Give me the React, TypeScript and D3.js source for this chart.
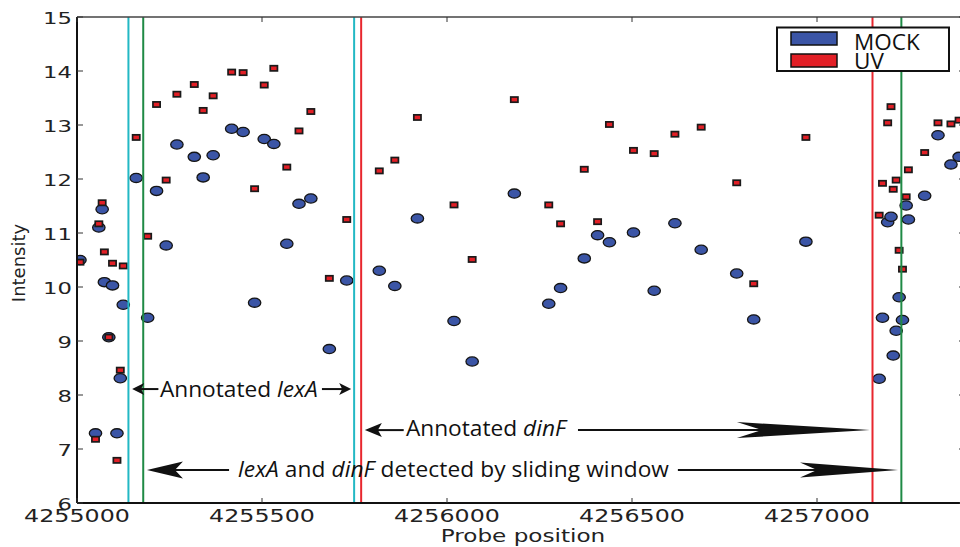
import React from 'react';
import * as d3 from 'd3';

// Probe positions (x) and intensities for the two conditions
const positions = [
  4255008, 4255050, 4255059, 4255068, 4255074, 4255086, 4255096, 4255108, 4255117, 4255125,
  4255160, 4255191, 4255215, 4255241, 4255270, 4255317, 4255341, 4255368, 4255418, 4255449,
  4255480, 4255506, 4255532, 4255567, 4255600, 4255632, 4255682, 4255729, 4255817, 4255859,
  4255920, 4256019, 4256068, 4256182, 4256275, 4256307, 4256371, 4256407, 4256439, 4256504,
  4256560, 4256616, 4256687, 4256783, 4256829, 4256970, 4257168, 4257177, 4257191, 4257200,
  4257206, 4257214, 4257222, 4257231, 4257241, 4257247, 4257291, 4257327, 4257362, 4257384,
];
const mock = [
  10.5, 7.29, 11.1, 11.44, 10.09, 9.07, 10.03, 7.29, 8.31, 9.67,
  12.02, 9.43, 11.78, 10.77, 12.64, 12.41, 12.03, 12.44, 12.93, 12.87,
  9.71, 12.74, 12.65, 10.8, 11.54, 11.64, 8.85, 10.12, 10.3, 10.02,
  11.27, 9.37, 8.62, 11.73, 9.69, 9.98, 10.53, 10.96, 10.83, 11.01,
  9.93, 11.18, 10.69, 10.25, 9.4, 10.84, 8.3, 9.43, 11.2, 11.3,
  8.73, 9.19, 9.81, 9.39, 11.51, 11.25, 11.69, 12.81, 12.27, 12.41,
];
const uv = [
  10.46, 7.18, 11.17, 11.56, 10.65, 9.07, 10.44, 6.79, 8.46, 10.39,
  12.77, 10.94, 13.38, 11.98, 13.57, 13.75, 13.27, 13.54, 13.98, 13.97,
  11.82, 13.74, 14.05, 12.22, 12.89, 13.25, 10.16, 11.25, 12.15, 12.35,
  13.14, 11.52, 10.51, 13.47, 11.52, 11.17, 12.18, 11.21, 13.01, 12.53,
  12.47, 12.83, 12.96, 11.93, 10.06, 12.77, 11.33, 11.92, 13.04, 13.34,
  11.81, 11.98, 10.68, 10.33, 11.67, 12.17, 12.49, 13.04, 13.02, 13.09,
];

const xTicks = [4255000, 4255500, 4256000, 4256500, 4257000];
const yTicks = [6, 7, 8, 9, 10, 11, 12, 13, 14, 15];

// Gene boundary lines: annotated lexA (cyan), detected (green), annotated dinF (red)
const boundaryPositions = [4255139, 4255179, 4255749, 4255768, 4257150, 4257228];
const boundaryKinds = ['annot', 'detect', 'annot', 'dinF', 'dinF', 'detect'];

const seriesNames = ['MOCK', 'UV'];

const W = 960;
const H = 547;
const X0 = 77, X1 = 965, Y0 = 503, Y1 = 17;

const lineColors: Record<string, string> = {
  annot: '#22b8c4',
  detect: '#1f8a45',
  dinF: '#e8262e',
};
const BLUE = '#3b55a6';
const RED = '#e21f26';

export default function App() {
  const x = d3.scaleLinear().domain([4255000, 4257400]).range([X0, X1]);
  const y = d3.scaleLinear().domain([6, 15]).range([Y0, Y1]);

  const head = (tip: number, yy: number, dir: number, len: number, hw: number, notch: number) =>
    `M${tip},${yy} L${tip - dir * len},${yy - hw} L${tip - dir * notch},${yy} L${tip - dir * len},${yy + hw} Z`;

  const annFont = "'Open Sans', 'Noto Sans', sans-serif";
  const tickFont = "'DejaVu Sans', sans-serif";

  // annotation rows (data-space anchors)
  const yLex = y(8.11);
  const yDin = y(7.35);
  const ySl = y(6.61);

  return (
    <svg width={W} height={H} style={{ position: 'absolute', left: 0, top: 0, background: '#fff' }}>
      <defs>
        <clipPath id="plotclip">
          <rect x={X0} y={Y1} width={X1 - X0} height={Y0 - Y1} />
        </clipPath>
      </defs>
      <rect x={0} y={0} width={W} height={H} fill="#fff" />

      <g clipPath="url(#plotclip)">
        {positions.map((p, i) => (
          <ellipse key={'m' + i} cx={x(p)} cy={y(mock[i])} rx={6.2} ry={4.6} fill={BLUE} stroke="#151515" strokeWidth={1.3} />
        ))}
        {positions.map((p, i) => (
          <rect key={'u' + i} x={x(p) - 3.6} y={y(uv[i]) - 2.6} width={7.2} height={5.2} fill={RED} stroke="#1a1a1a" strokeWidth={1.7} />
        ))}
        {boundaryPositions.map((p, i) => (
          <line key={'v' + i} x1={x(p)} x2={x(p)} y1={Y1} y2={Y0} stroke={lineColors[boundaryKinds[i]]} strokeWidth={2} />
        ))}
      </g>

      {/* spines */}
      <line x1={X0} x2={X1} y1={Y1} y2={Y1} stroke="#444" strokeWidth={1.5} />
      <line x1={X1} x2={X1} y1={Y1} y2={Y0} stroke="#222" strokeWidth={1.5} />
      <line x1={X0} x2={X1} y1={Y0} y2={Y0} stroke="#111" strokeWidth={2} />
      <line x1={X0} x2={X0} y1={Y1} y2={Y0} stroke="#111" strokeWidth={2} />

      {/* ticks */}
      {xTicks.map((t) => (
        <g key={'xt' + t}>
          <line x1={x(t)} x2={x(t)} y1={Y0} y2={Y0 - 5} stroke="#333" strokeWidth={1} />
          <line x1={x(t)} x2={x(t)} y1={Y1} y2={Y1 + 5} stroke="#333" strokeWidth={1} />
          <text
            transform={`translate(${x(t)},521.5) scale(1.32,1)`}
            textAnchor="middle"
            fontFamily={tickFont}
            fontSize={18}
            fill="#222"
          >
            {t}
          </text>
        </g>
      ))}
      {yTicks.map((t) => (
        <g key={'yt' + t}>
          <line x1={X0} x2={X0 + 6} y1={y(t)} y2={y(t)} stroke="#333" strokeWidth={1} />
          <line x1={X1} x2={X1 - 6} y1={y(t)} y2={y(t)} stroke="#333" strokeWidth={1} />
          <text
            transform={`translate(72,${y(t)}) scale(1.42,1)`}
            textAnchor="end"
            dy="0.43em"
            fontFamily={tickFont}
            fontSize={16}
            fill="#222"
          >
            {t}
          </text>
        </g>
      ))}

      {/* axis labels */}
      <text
        transform={`translate(523,542) scale(1.36,1)`}
        textAnchor="middle"
        fontFamily={tickFont}
        fontSize={17}
        fill="#222"
      >
        Probe position
      </text>
      <text
        transform={`translate(25,263) rotate(-90)`}
        textAnchor="middle"
        fontFamily={tickFont}
        fontSize={18}
        fill="#222"
      >
        Intensity
      </text>

      {/* legend */}
      <g>
        <rect x={777} y={27.5} width={172} height={43.5} fill="#fff" stroke="#111" strokeWidth={2} />
        <rect x={791} y={32} width={46} height={13} fill={BLUE} stroke="#111" strokeWidth={1.5} />
        <rect x={791} y={54} width={46} height={13} fill={RED} stroke="#111" strokeWidth={1.5} />
        <text x={854} y={50} fontFamily={annFont} fontSize={22.5} fill="#111">{seriesNames[0]}</text>
        <text x={854} y={68.5} fontFamily={annFont} fontSize={22.5} fill="#111">{seriesNames[1]}</text>
      </g>

      {/* annotations */}
      <g fill="#111" stroke="none">
        {/* Annotated lexA */}
        <path d={head(x(4255149), yLex, -1, 12, 6, 9)} />
        <path d={head(x(4255741), yLex, 1, 12, 6, 9)} />
        <line x1={x(4255170)} x2={x(4255220)} y1={yLex} y2={yLex} stroke="#111" strokeWidth={2} />
        <line x1={x(4255662)} x2={x(4255720)} y1={yLex} y2={yLex} stroke="#111" strokeWidth={2} />
        <text x={x(4255224)} y={397} fontFamily={annFont} fontSize={22.7}>
          Annotated <tspan fontStyle="italic">lexA</tspan>
        </text>

        {/* Annotated dinF */}
        <path d={head(x(4255778), yDin, -1, 17, 7, 13)} />
        <line x1={x(4255810)} x2={x(4255883)} y1={yDin} y2={yDin} stroke="#111" strokeWidth={2} />
        <text x={x(4255889)} y={436} fontFamily={annFont} fontSize={22.7}>
          Annotated <tspan fontStyle="italic">dinF</tspan>
        </text>
        <line x1={x(4256354)} x2={x(4256860)} y1={yDin} y2={yDin} stroke="#111" strokeWidth={2} />
        <path d={head(x(4257143), yDin, 1, 133, 8, 108)} />

        {/* detected by sliding window */}
        <path d={head(x(4255189), ySl, -1, 36, 8.5, 28)} />
        <line x1={x(4255260)} x2={x(4255411)} y1={ySl} y2={ySl} stroke="#111" strokeWidth={2} />
        <text x={x(4255435)} y={476.5} fontFamily={annFont} fontSize={22.7} textLength={431} lengthAdjust="spacing">
          <tspan fontStyle="italic">lexA</tspan> and <tspan fontStyle="italic">dinF</tspan> detected by sliding window
        </text>
        <line x1={x(4256624)} x2={x(4257005)} y1={ySl} y2={ySl} stroke="#111" strokeWidth={2} />
        <path d={head(x(4257219), ySl, 1, 98, 7.5, 81)} />
      </g>
    </svg>
  );
}
